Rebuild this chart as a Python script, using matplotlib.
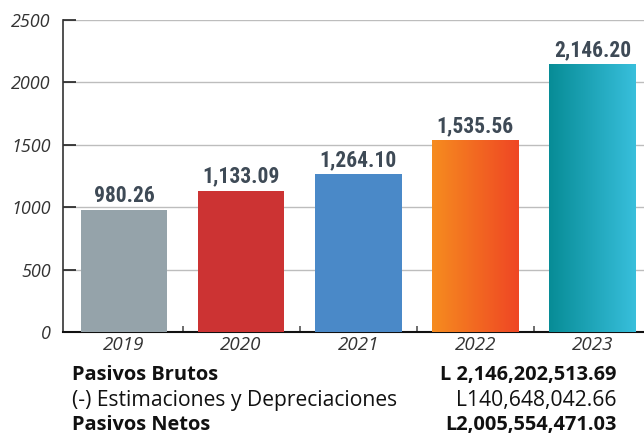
import numpy as np
import matplotlib
import matplotlib.pyplot as plt

matplotlib.use("Agg")

# Datos
years = ["2019", "2020", "2021", "2022", "2023"]
values = [980.26, 1133.09, 1264.10, 1535.56, 2146.20]
value_labels = ["980.26", "1,133.09", "1,264.10", "1,535.56", "2,146.20"]
y_ticks = [0, 500, 1000, 1500, 2000, 2500]

rows = [
    ("Pasivos Brutos", "L 2,146,202,513.69", "bold"),
    ("(-) Estimaciones y Depreciaciones", "L140,648,042.66", "normal"),
    ("Pasivos Netos", "L2,005,554,471.03", "bold"),
]

# Colores (los dos últimos con degradado)
solid_colors = ["#95a3aa", "#cc3333", "#4a89c8", None, None]
gradients = {3: ("#f68c1f", "#ef4624"), 4: ("#078c96", "#38bfdc")}

plt.rcParams["font.family"] = ["Open Sans", "DejaVu Sans"]

fig = plt.figure(figsize=(6.44, 4.36), dpi=100)
ax = fig.add_axes([0.098, 0.2385, 0.902, 0.7155])

x = np.arange(len(years))
width = 0.74

bars = ax.bar(x, values, width=width, color=[c if c else "none" for c in solid_colors],
              zorder=3)

# Degradados horizontales
for i, (c1, c2) in gradients.items():
    b = bars[i]
    x0, y0 = b.get_x(), 0
    x1, y1 = x0 + b.get_width(), b.get_height()
    grad = np.linspace(0, 1, 256).reshape(1, -1)
    cmap = matplotlib.colors.LinearSegmentedColormap.from_list("g%d" % i, [c1, c2])
    im = ax.imshow(grad, extent=[x0, x1, y0, y1], aspect="auto", cmap=cmap, zorder=3)
    im.set_clip_path(b)

# Etiquetas de valor (fuente condensada)
for xi, v, lab in zip(x, values, value_labels):
    ax.text(xi, v + 25, lab, ha="center", va="bottom",
            family=["Roboto Condensed", "DejaVu Sans"], fontstretch="condensed",
            fontweight="bold", fontsize=15.5, color="#3e4a56", zorder=4)

ax.set_xlim(-0.52, 4.44)
ax.set_ylim(0, 2500)
ax.set_yticks(y_ticks)
ax.set_yticklabels([str(t) for t in y_ticks], fontstyle="italic", fontsize=13, color="#333333")
ax.set_xticks(x)
ax.set_xticklabels(years, fontstyle="italic", fontsize=13.5, color="#333333")
ax.set_xticks(x[:-1] + 0.5, minor=True)

ax.tick_params(axis="y", direction="in", length=9.5, width=1.2, color="#222222", pad=9)
ax.tick_params(axis="x", which="major", length=0, pad=3)
ax.tick_params(axis="x", which="minor", direction="in", length=4.5, width=1.2, color="#555555")

ax.grid(axis="y", color="#bdbdbd", linewidth=1, zorder=0)
ax.set_axisbelow(True)

for s in ["top", "right"]:
    ax.spines[s].set_visible(False)
ax.spines["left"].set_color("#333333")
ax.spines["bottom"].set_color("#111111")
ax.spines["left"].set_linewidth(1.2)
ax.spines["bottom"].set_linewidth(1.5)

# Tabla de totales
ys = [375, 400, 425]
for (lab, val, w), yp in zip(rows, ys):
    size = 14.4 if w == "bold" else 15.2
    fig.text(72 / 644, 1 - yp / 436, lab, ha="left", va="center", fontsize=size,
             fontweight=w, color="#111111")
    fig.text(617 / 644, 1 - yp / 436, val, ha="right", va="center", fontsize=size,
             fontweight=w, color="#111111")

fig.savefig("out.png", dpi=100)
